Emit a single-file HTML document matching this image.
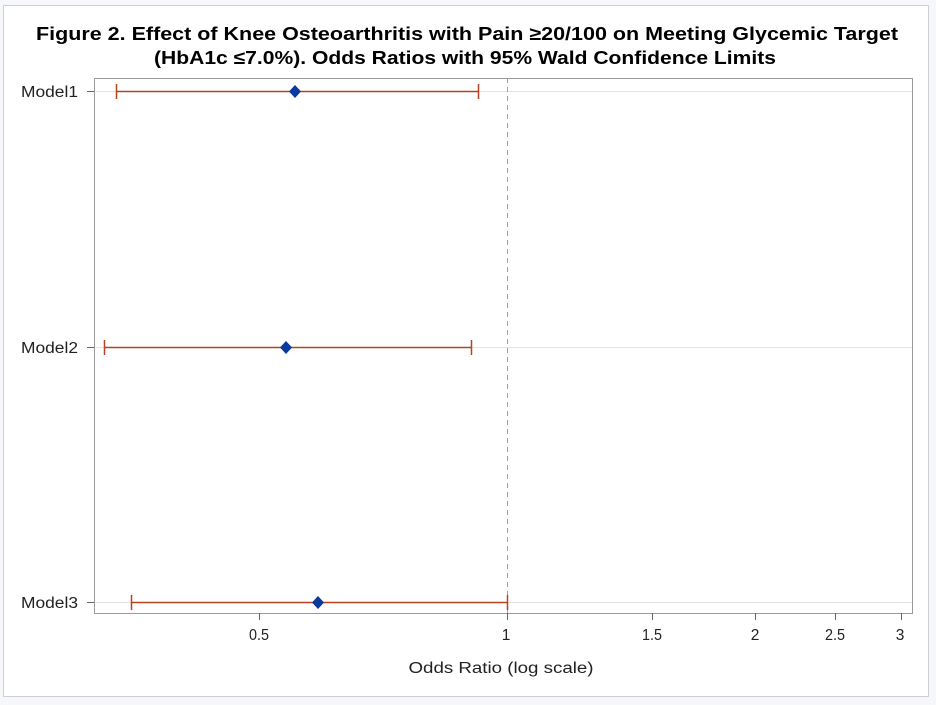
<!DOCTYPE html>
<html><head><style>
html,body{margin:0;padding:0;background:#f5f7fb;}
svg{display:block;}
</style></head><body>
<svg width="936" height="705" xmlns="http://www.w3.org/2000/svg" font-family="Liberation Sans, Arial, sans-serif">
<rect x="0" y="0" width="936" height="705" fill="#f5f7fb"/>
<rect x="3.5" y="5.5" width="925" height="691" fill="#fff" stroke="#d0d0d0"/>
<text x="467" y="40" text-anchor="middle" font-size="18.5" font-weight="bold" fill="#000" textLength="862" lengthAdjust="spacingAndGlyphs">Figure 2. Effect of Knee Osteoarthritis with Pain ≥20/100 on Meeting Glycemic Target</text>
<text x="465" y="64" text-anchor="middle" font-size="18.5" font-weight="bold" fill="#000" textLength="622" lengthAdjust="spacingAndGlyphs">(HbA1c ≤7.0%). Odds Ratios with 95% Wald Confidence Limits</text>
<g stroke="#e2e2e2" stroke-width="1">
<line x1="94" y1="91.5" x2="913" y2="91.5"/>
<line x1="94" y1="347.5" x2="913" y2="347.5"/>
<line x1="94" y1="602.5" x2="913" y2="602.5"/>
</g>
<line x1="507.5" y1="78" x2="507.5" y2="613" stroke="#a0a0a0" stroke-dasharray="5,4"/>
<rect x="94.5" y="78.5" width="818" height="535" fill="none" stroke="#9a9a9a"/>
<g stroke="#666"><line x1="87" y1="91.5" x2="94" y2="91.5"/><line x1="87" y1="347.5" x2="94" y2="347.5"/><line x1="87" y1="602.5" x2="94" y2="602.5"/></g>
<g font-size="15.5" fill="#222" text-anchor="end">
<text x="78" y="97" textLength="57" lengthAdjust="spacingAndGlyphs">Model1</text><text x="78" y="353" textLength="57" lengthAdjust="spacingAndGlyphs">Model2</text><text x="78" y="608" textLength="57" lengthAdjust="spacingAndGlyphs">Model3</text>
</g>
<g stroke="#666">
<line x1="259.5" y1="613" x2="259.5" y2="620"/><line x1="507.5" y1="613" x2="507.5" y2="620"/><line x1="652.5" y1="613" x2="652.5" y2="620"/><line x1="755.5" y1="613" x2="755.5" y2="620"/><line x1="835.5" y1="613" x2="835.5" y2="620"/><line x1="901.5" y1="613" x2="901.5" y2="620"/>
</g>
<g font-size="15.5" fill="#222" text-anchor="middle">
<text x="259" y="640" textLength="20" lengthAdjust="spacingAndGlyphs">0.5</text><text x="506" y="640">1</text><text x="652" y="640" textLength="20" lengthAdjust="spacingAndGlyphs">1.5</text><text x="755" y="640">2</text><text x="835" y="640" textLength="20" lengthAdjust="spacingAndGlyphs">2.5</text><text x="900" y="640">3</text>
<text x="501" y="673" textLength="185" lengthAdjust="spacingAndGlyphs">Odds Ratio (log scale)</text>
</g>
<g stroke="#b8421f" stroke-width="1.5">
<line x1="116" y1="91.5" x2="478" y2="91.5"/><line x1="116.5" y1="84" x2="116.5" y2="99"/><line x1="478.5" y1="84" x2="478.5" y2="99"/>
<line x1="104" y1="347.5" x2="471" y2="347.5"/><line x1="104.5" y1="340" x2="104.5" y2="355"/><line x1="471.5" y1="340" x2="471.5" y2="355"/>
<line x1="131" y1="602.5" x2="507" y2="602.5"/><line x1="131.5" y1="595" x2="131.5" y2="610"/><line x1="507.5" y1="595" x2="507.5" y2="610"/>
</g>
<g fill="#0b3a9e">
<polygon points="295,85 301,91.5 295,98 289,91.5"/>
<polygon points="286,341 292,347.5 286,354 280,347.5"/>
<polygon points="318,596 324,602.5 318,609 312,602.5"/>
</g>
</svg>
</body></html>
